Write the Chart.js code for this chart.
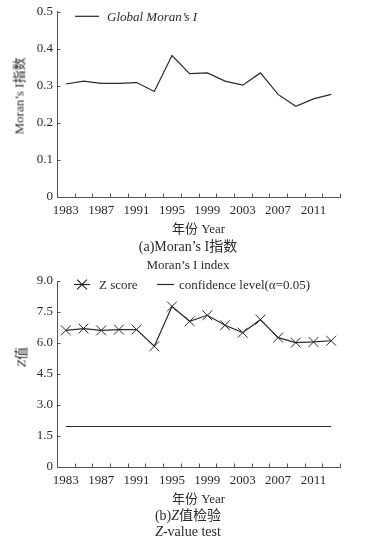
<!DOCTYPE html>
<html>
<head>
<meta charset="utf-8">
<script src="https://cdn.jsdelivr.net/npm/chart.js@4.4.0/dist/chart.umd.min.js"></script>
<style>
  body { margin: 0; background: #fff; width: 370px; height: 546px; position: relative; overflow: hidden;
         font-family: "Liberation Serif", "Noto Sans CJK SC", serif; color: #2a2a2a; }
  .box { position: absolute; left: 0; width: 370px; }
  .cap { position: absolute; left: 0; width: 376px; text-align: center; font-size: 13px; line-height: 16px; }
  .cap.big { font-size: 14px; }
  .ytitle { position: absolute; font-size: 13px; white-space: nowrap; transform: translate(-50%, -50%) rotate(-90deg); }
</style>
</head>
<body>

<div class="box" style="top:0;height:240px"><canvas id="moran-chart"></canvas></div>
<div class="ytitle" style="left:18px;top:96px">Moran’s I指数</div>
<div class="cap big" style="top:239px">(a)Moran’s I指数</div>
<div class="cap" style="top:257px">Moran’s I index</div>

<div class="box" style="top:268px;height:242px"><canvas id="zvalue-chart"></canvas></div>
<div class="ytitle" style="left:20px;top:357px"><i>Z</i>值</div>
<div class="cap big" style="top:508px">(b)<i>Z</i>值检验</div>
<div class="cap big" style="top:524px"><i>Z</i>-value test</div>

<script>
// Data
const years = ['1983', '1985', '1987', '1989', '1991', '1993', '1995', '1997',
               '1999', '2001', '2003', '2005', '2007', '2009', '2011', '2013'];
const moranI = [0.305, 0.313, 0.307, 0.307, 0.309, 0.285, 0.382, 0.333,
                0.335, 0.313, 0.302, 0.335, 0.277, 0.245, 0.265, 0.277];
const zScore = [6.61, 6.70, 6.61, 6.65, 6.65, 5.84, 7.77, 7.05,
                7.34, 6.86, 6.50, 7.13, 6.26, 6.02, 6.05, 6.11];
const confidenceLevel = [1.96, 1.96, 1.96, 1.96, 1.96, 1.96, 1.96, 1.96,
                         1.96, 1.96, 1.96, 1.96, 1.96, 1.96, 1.96, 1.96];
const moranTicks = { min: 0, max: 0.5, step: 0.1 };
const zTicks = { min: 0, max: 9, step: 1.5 };

const SERIF = '"Liberation Serif", "Noto Sans CJK SC", serif';
const INK = '#2a2a2a';
const AXIS = '#555';

Chart.defaults.font.family = SERIF;
Chart.defaults.font.size = 13;
Chart.defaults.color = INK;

// short tick marks pointing into the plot, like the printed figure
const innerTicks = {
  id: 'innerTicks',
  afterDraw(chart) {
    const { ctx } = chart;
    const x = chart.scales.x, y = chart.scales.y;
    ctx.save();
    ctx.strokeStyle = AXIS;
    ctx.lineWidth = 1;
    ctx.beginPath();
    y.ticks.forEach(t => {
      const py = Math.round(y.getPixelForValue(t.value)) + 0.5;
      ctx.moveTo(y.right, py);
      ctx.lineTo(y.right + 3.5, py);
    });
    for (let i = 0; i <= x.ticks.length; i++) {
      const px = Math.round(x.getPixelForValue(i - 0.5)) + 0.5;
      ctx.moveTo(px, x.top);
      ctx.lineTo(px, x.top - 3.5);
    }
    ctx.stroke();
    ctx.restore();
  }
};

// legend drawn inside the plot area
const insideLegend = {
  id: 'insideLegend',
  afterDraw(chart, args, opts) {
    if (!opts.items) return;
    const { ctx, chartArea } = chart;
    const y = chartArea.top + opts.dy;
    ctx.save();
    opts.items.forEach(item => {
      const ds = chart.data.datasets[item.dataset];
      const x0 = chartArea.left + item.x;
      ctx.strokeStyle = ds.borderColor;
      ctx.lineWidth = ds.borderWidth;
      ctx.beginPath();
      ctx.moveTo(x0, y);
      ctx.lineTo(x0 + item.w, y);
      ctx.stroke();
      if (ds.pointRadius > 0) {
        Chart.helpers.drawPoint(ctx, {
          pointStyle: ds.pointStyle, radius: ds.pointRadius,
          borderWidth: ds.pointBorderWidth, rotation: 0
        }, x0 + item.w / 2, y);
      }
      ctx.fillStyle = INK;
      ctx.font = (item.italic ? 'italic ' : '') + '13px ' + SERIF;
      ctx.textBaseline = 'middle';
      ctx.textAlign = 'left';
      ctx.fillText(ds.label, x0 + item.w + item.gap, y + 1);
    });
    ctx.restore();
  }
};

function buildOptions(range, xHeight, topPad, legend) {
  return {
    responsive: true,
    maintainAspectRatio: false,
    animation: false,
    layout: { padding: { top: topPad, right: 30, left: 0, bottom: 0 } },
    plugins: {
      legend: { display: false },
      tooltip: { enabled: false },
      insideLegend: legend
    },
    scales: {
      x: {
        type: 'category',
        offset: true,
        afterFit: scale => { scale.height = xHeight; },
        grid: { display: true, drawOnChartArea: false, drawTicks: false },
        border: { display: true, color: AXIS, width: 1 },
        ticks: {
          autoSkip: false, maxRotation: 0, padding: 6,
          callback: function (value, index) { return index % 2 === 0 ? this.getLabelForValue(value) : ''; }
        },
        title: { display: true, text: '年份 Year', padding: { top: 0, bottom: 3 } }
      },
      y: {
        min: range.min,
        max: range.max,
        afterFit: scale => { scale.width = 57; },
        grid: { display: true, drawOnChartArea: false, drawTicks: false },
        border: { display: true, color: AXIS, width: 1 },
        ticks: {
          stepSize: range.step, padding: 4,
          callback: v => (Math.abs(v) < 1e-9 ? '0' : v.toFixed(1))
        }
      }
    }
  };
}

new Chart(document.getElementById('moran-chart'), {
  type: 'line',
  data: {
    labels: years,
    datasets: [{
      label: 'Global Moran’s I',
      data: moranI,
      borderColor: INK,
      borderWidth: 1.2,
      pointRadius: 0,
      tension: 0
    }]
  },
  options: buildOptions(moranTicks, 43, 10, {
    dy: 4.5,
    items: [{ dataset: 0, x: 18, w: 24, gap: 8, italic: true }]
  }),
  plugins: [innerTicks, insideLegend]
});

new Chart(document.getElementById('zvalue-chart'), {
  type: 'line',
  data: {
    labels: years,
    datasets: [{
      label: 'Z score',
      data: zScore,
      borderColor: INK,
      borderWidth: 1.2,
      pointStyle: 'crossRot',
      pointRadius: 7,
      pointBorderWidth: 1,
      pointBorderColor: INK,
      tension: 0
    }, {
      label: 'confidence level(α=0.05)',
      data: confidenceLevel,
      borderColor: INK,
      borderWidth: 1.2,
      pointRadius: 0,
      tension: 0
    }]
  },
  options: buildOptions(zTicks, 43, 13, {
    dy: 3.5,
    items: [
      { dataset: 0, x: 17, w: 16, gap: 9 },
      { dataset: 1, x: 100, w: 17, gap: 5 }
    ]
  }),
  plugins: [innerTicks, insideLegend]
});
</script>
</body>
</html>
